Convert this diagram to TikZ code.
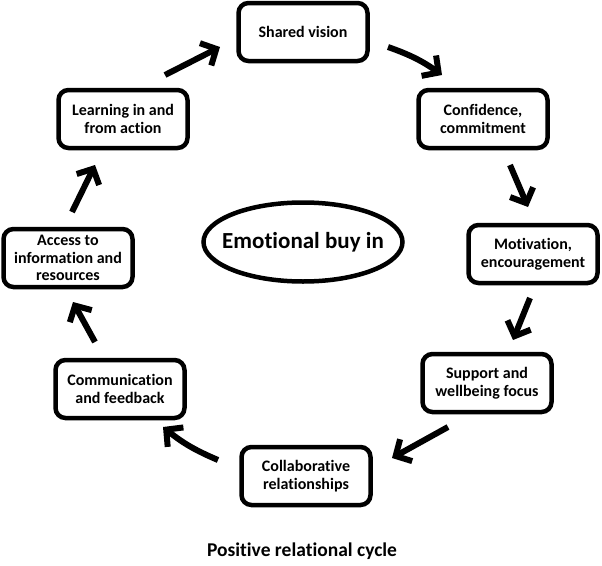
\documentclass[tikz,border=0pt]{standalone}
\usepackage{fontspec}
\setmainfont{Carlito}[Ligatures=NoCommon]
\usetikzlibrary{arrows.meta,shapes.geometric}
\begin{document}
\begin{tikzpicture}[x=1pt,y=-1pt,
  cyclebox/.style={draw, line width=4.5pt, rounded corners=10pt, minimum width=129pt, minimum height=58pt, align=center, font=\fontsize{16}{17.5}\selectfont\bfseries, inner sep=0pt},
  cyclearrow/.style={line width=6pt, -{Straight Barb[length=12pt,width=25pt,line width=6pt]}}]
\useasboundingbox (0,0) rectangle (602,565);
\node[cyclebox] (sv) at (303,32) {Shared vision};
\node[cyclebox] (cc) at (483,119) {Confidence,\\commitment};
\node[cyclebox] (me) at (533,254) {Motivation,\\encouragement};
\node[cyclebox] (sw) at (487,383) {Support and\\wellbeing focus};
\node[cyclebox] (cr) at (306,476) {Collaborative\\relationships};
\node[cyclebox] (cf) at (120,389) {Communication\\and feedback};
\node[cyclebox] (ai) at (68,258) {Access to\\information and\\resources};
\node[cyclebox] (la) at (123,119) {Learning in and\\from action};
\node[draw, ellipse, line width=4.5pt, minimum width=199pt, minimum height=79pt, inner sep=0pt] (eb) at (303,242) {};
\node[font=\fontsize{23}{26}\selectfont\bfseries, inner sep=0pt] (ebt) at (eb.center) {Emotional buy in};
\node[font=\fontsize{19.5}{22}\selectfont\bfseries] (cap) at (302,551) {Positive relational cycle};
\coordinate (a1s) at (165,75); \coordinate (a1e) at (220,47);
\coordinate (a2s) at (388,47); \coordinate (a2e) at (442,75);
\coordinate (a3s) at (510,165); \coordinate (a3e) at (528,207);
\coordinate (a4s) at (530,298); \coordinate (a4e) at (513,340);
\coordinate (a5s) at (448,427); \coordinate (a5e) at (392,458);
\coordinate (a6s) at (218,460); \coordinate (a6e) at (163,427);
\coordinate (a7s) at (95,342); \coordinate (a7e) at (73,302);
\coordinate (a8s) at (72,212); \coordinate (a8e) at (95,165);
\draw[cyclearrow] (a1s) -- (a1e);
\draw[cyclearrow] (a2s) to[bend left=8] (a2e);
\draw[cyclearrow] (a3s) -- (a3e);
\draw[cyclearrow] (a4s) -- (a4e);
\draw[cyclearrow] (a5s) -- (a5e);
\draw[cyclearrow] (a6s) to[bend left=8] (a6e);
\draw[cyclearrow] (a7s) -- (a7e);
\draw[cyclearrow] (a8s) -- (a8e);
\end{tikzpicture}
\end{document}
